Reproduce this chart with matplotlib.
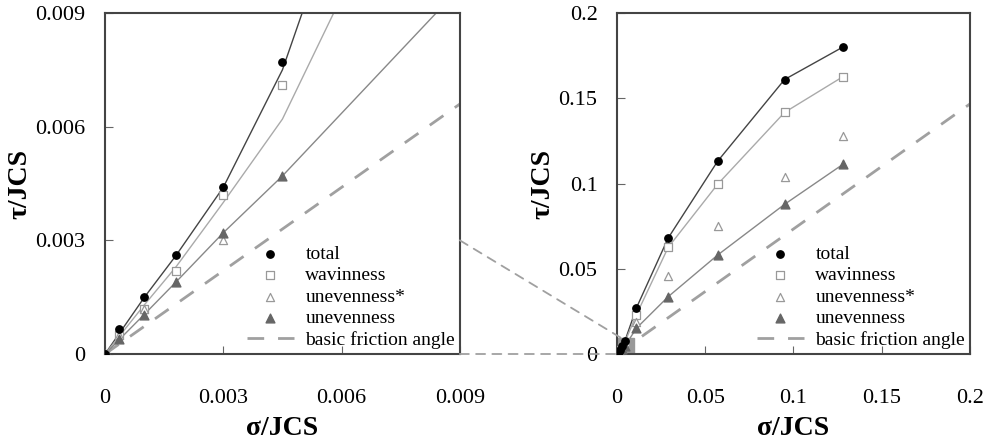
import matplotlib
matplotlib.use("Agg")
import matplotlib.pyplot as plt
from matplotlib.patches import Rectangle, ConnectionPatch

plt.rcParams['font.family'] = ['Liberation Serif', 'DejaVu Serif']

# ---- left panel (small normal stress) ----
l_x = [0, 0.00035, 0.001, 0.0018, 0.003, 0.0045]
l_total = [0, 0.00065, 0.0015, 0.0026, 0.0044, 0.0077]
l_wav = [0, 0.0005, 0.0012, 0.0022, 0.0042, 0.0071]
l_unev_star_x = [0, 0.00035, 0.001, 0.003]
l_unev_star = [0, 0.0005, 0.0012, 0.0030]
l_unev = [0, 0.0004, 0.00103, 0.0019, 0.0032, 0.0047]

# fitted curves (left)
l_fit_total_x = [0, 0.001, 0.0018, 0.003, 0.0045, 0.005]
l_fit_total_y = [0, 0.0015, 0.0026, 0.0044, 0.0075, 0.009]
l_fit_wav_x = [0, 0.001, 0.0018, 0.003, 0.0045, 0.0058]
l_fit_wav_y = [0, 0.0013, 0.0023, 0.0040, 0.0062, 0.009]
l_fit_unev_x = [0, 0.001, 0.0018, 0.003, 0.0045, 0.0084]
l_fit_unev_y = [0, 0.00105, 0.0019, 0.0032, 0.0047, 0.009]

# ---- right panel ----
r_x = [0, 0.00035, 0.001, 0.0018, 0.003, 0.0045, 0.011, 0.029, 0.057, 0.095, 0.128]
r_total = [0, 0.00065, 0.0015, 0.0026, 0.0044, 0.0077, 0.027, 0.068, 0.113, 0.161, 0.180]
r_wav = [0, 0.0005, 0.0012, 0.0022, 0.0042, 0.0071, 0.023, 0.0625, 0.0995, 0.1417, 0.1626]
r_unev_star = [0, 0.0005, 0.0012, 0.0020, 0.0030, 0.0050, 0.019, 0.046, 0.0753, 0.104, 0.128]
r_unev = [0, 0.0004, 0.00103, 0.0019, 0.0032, 0.0047, 0.0151, 0.0336, 0.058, 0.0878, 0.1112]

friction_slope = 0.733

l_ticks = [0, 0.003, 0.006, 0.009]
l_ticklabels = ['0', '0.003', '0.006', '0.009']
r_ticks = [0, 0.05, 0.1, 0.15, 0.2]
r_ticklabels = ['0', '0.05', '0.1', '0.15', '0.2']

fig = plt.figure(figsize=(9.91, 4.44), dpi=100)
ax1 = fig.add_axes([0.106, 0.2027, 0.358, 0.768])
ax2 = fig.add_axes([0.6226, 0.2027, 0.356, 0.768])

dash_col = '#a0a0a0'


def style(ax, lim, ticks, labels):
    ax.set_xlim(0, lim)
    ax.set_ylim(0, lim)
    ax.set_xticks(ticks)
    ax.set_xticklabels(labels)
    ax.set_yticks(ticks)
    ax.set_yticklabels(labels)
    ax.tick_params(axis='x', direction='in', length=6, pad=25, labelsize=16, color='#666666')
    ax.tick_params(axis='y', direction='in', length=6, pad=14, labelsize=16, color='#666666')
    for sp in ax.spines.values():
        sp.set_linewidth(1.5)
        sp.set_color('#444444')
    ax.set_xlabel('σ/JCS', fontsize=20, fontweight='bold', labelpad=6)
    ax.set_ylabel('τ/JCS', fontsize=20, fontweight='bold', labelpad=2)


# left
ax1.plot(l_fit_total_x, l_fit_total_y, color='#444444', lw=1)
ax1.plot(l_fit_wav_x, l_fit_wav_y, color='#aaaaaa', lw=1)
ax1.plot(l_fit_unev_x, l_fit_unev_y, color='#888888', lw=1)
ax1.plot([0, 0.009], [0, 0.009 * friction_slope], color=dash_col, lw=2,
         dashes=(6, 5), label='basic friction angle', zorder=1)
ax1.scatter(l_x, l_total, s=28, color='black', zorder=4, label='total')
ax1.scatter(l_x, l_wav, s=30, marker='s', facecolor='white', edgecolor='#999999',
            lw=0.9, zorder=3, label='wavinness')
ax1.scatter(l_unev_star_x, l_unev_star, s=34, marker='^', facecolor='white',
            edgecolor='#999999', lw=0.9, zorder=3, label='unevenness*')
ax1.scatter(l_x, l_unev, s=40, marker='^', color='#666666', zorder=3, label='unevenness')
style(ax1, 0.009, l_ticks, l_ticklabels)

# right
ax2.add_patch(Rectangle((0, 0), 0.0095, 0.0095, facecolor='#999999', edgecolor='#999999', zorder=2))
ax2.plot(r_x, r_total, color='#444444', lw=1)
ax2.plot(r_x, r_wav, color='#aaaaaa', lw=1)
ax2.plot(r_x, r_unev, color='#888888', lw=1)
ax2.plot([0, 0.2], [0, 0.2 * friction_slope], color=dash_col, lw=2,
         dashes=(6, 5), label='basic friction angle', zorder=1)
ax2.scatter(r_x, r_total, s=28, color='black', zorder=4, label='total')
ax2.scatter(r_x, r_wav, s=30, marker='s', facecolor='white', edgecolor='#999999',
            lw=0.9, zorder=3, label='wavinness')
ax2.scatter(r_x, r_unev_star, s=34, marker='^', facecolor='white',
            edgecolor='#999999', lw=0.9, zorder=3, label='unevenness*')
ax2.scatter(r_x, r_unev, s=40, marker='^', color='#666666', zorder=3, label='unevenness')
style(ax2, 0.2, r_ticks, r_ticklabels)

for ax in (ax1, ax2):
    handles, labels = ax.get_legend_handles_labels()
    order = [1, 2, 3, 4, 0]
    ax.legend([handles[i] for i in order], [labels[i] for i in order],
              loc='lower right', frameon=False, fontsize=14, handlelength=2.4,
              labelspacing=0.2, handletextpad=0.6, borderaxespad=0.05,
              borderpad=0.2, scatterpoints=1)

# zoom connectors
c1 = ConnectionPatch(xyA=(0.009, 0.003), coordsA=ax1.transData,
                     xyB=(0.003, 0.009), coordsB=ax2.transData,
                     color=dash_col, lw=1.3, linestyle=(0, (5, 4)))
c2 = ConnectionPatch(xyA=(0.009, 0), coordsA=ax1.transData,
                     xyB=(0, 0), coordsB=ax2.transData,
                     color=dash_col, lw=1.3, linestyle=(0, (5, 4)))
fig.add_artist(c1)
fig.add_artist(c2)

fig.savefig('out.png', dpi=100)
